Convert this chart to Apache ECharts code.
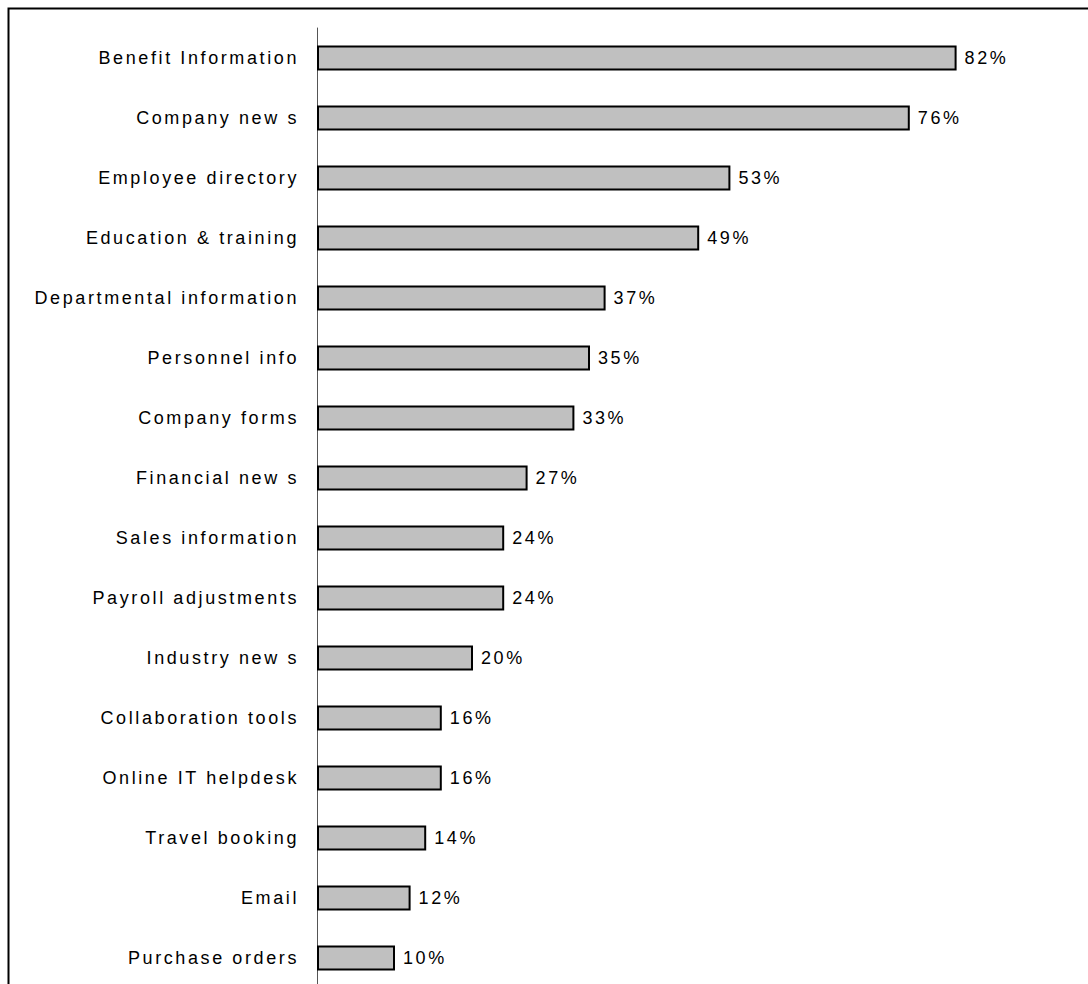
<!DOCTYPE html>
<html>
<head>
<meta charset="utf-8">
<script src="https://cdn.jsdelivr.net/npm/echarts@6/dist/echarts.min.js"></script>
<style>
  html, body { margin: 0; padding: 0; background: #fff; overflow: hidden; }
  #chart { width: 1088px; height: 1000px; }
  #chart svg text { letter-spacing: 2.6px; }
</style>
</head>
<body>
<div id="chart"></div>
<script>
const categories = [
  "Benefit Information", "Company new s", "Employee directory", "Education & training",
  "Departmental information", "Personnel info", "Company forms", "Financial new s",
  "Sales information", "Payroll adjustments", "Industry new s", "Collaboration tools",
  "Online IT helpdesk", "Travel booking", "Email", "Purchase orders"
];
const values = [82, 76, 53, 49, 37, 35, 33, 27, 24, 24, 20, 16, 16, 14, 12, 10];

const chart = echarts.init(document.getElementById('chart'), null, { renderer: 'svg' });
chart.setOption({
  animation: false,
  backgroundColor: '#fff',
  graphic: [{
    type: 'rect',
    shape: { x: 8.5, y: 8.5, width: 1200, height: 1100 },
    style: { fill: 'none', stroke: '#000', lineWidth: 2 },
    silent: true, z: 100
  }],
  grid: { left: 317, top: 28, width: 702, height: 960, containLabel: false },
  xAxis: {
    type: 'value', min: 0, max: 90, show: false
  },
  yAxis: {
    type: 'category', inverse: true, data: categories,
    axisLine: { show: true, lineStyle: { color: '#555', width: 1 } },
    axisTick: { show: false },
    splitLine: { show: false },
    axisLabel: {
      margin: 18, color: '#000', fontSize: 18,
      fontFamily: 'Liberation Sans, Arial, sans-serif'
    }
  },
  series: [{
    type: 'bar', data: values, barWidth: 25,
    itemStyle: { color: '#c0c0c0', borderColor: '#000', borderWidth: 2 },
    label: {
      show: true, position: 'right', distance: 8,
      formatter: p => p.value + '%',
      color: '#000', fontSize: 18,
      fontFamily: 'Liberation Sans, Arial, sans-serif'
    }
  }]
});
</script>
</body>
</html>
